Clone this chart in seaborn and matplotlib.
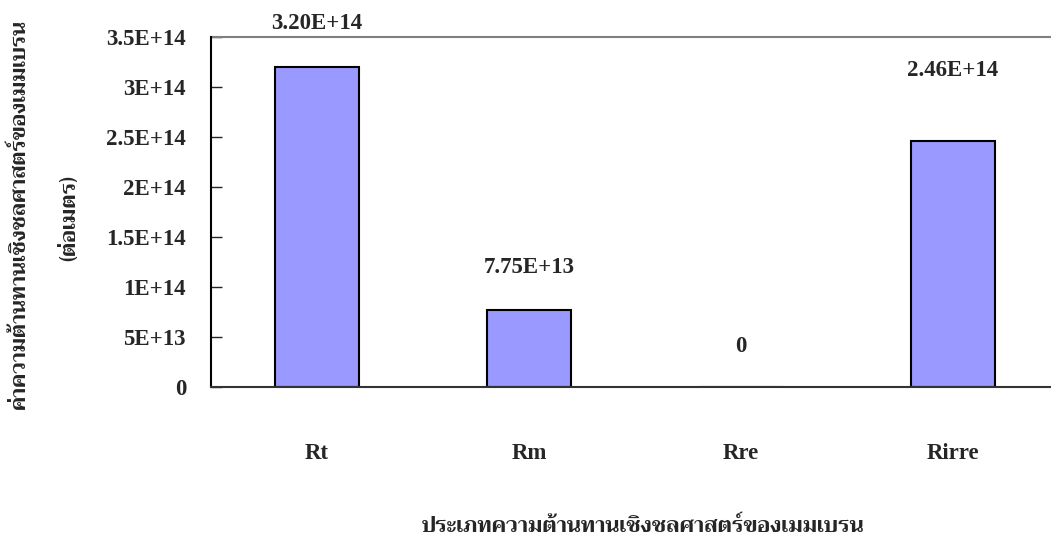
import matplotlib
matplotlib.use("Agg")
import matplotlib.pyplot as plt
import seaborn as sns

# data
categories = ["Rt", "Rm", "Rre", "Rirre"]
values = [3.20e14, 7.75e13, 0.0, 2.46e14]
value_labels = ["3.20E+14", "7.75E+13", "0", "2.46E+14"]
yticks = [0, 5e13, 1e14, 1.5e14, 2e14, 2.5e14, 3e14, 3.5e14]
ytick_labels = ["0", "5E+13", "1E+14", "1.5E+14", "2E+14", "2.5E+14", "3E+14", "3.5E+14"]
ylabel_lines = ["ค่าความต้านทานเชิงชลศาสตร์ของเมมเบรน", "(ต่อเมตร)"]
xlabel = "ประเภทความต้านทานเชิงชลศาสตร์ของเมมเบรน"

sns.set_style("white")
plt.rcParams['font.family'] = ['Liberation Serif', 'Trirong']
plt.rcParams['font.weight'] = 'bold'

fig = plt.figure(figsize=(10.51, 5.39), dpi=100)
ax = fig.add_axes([211 / 1051, 1 - 387 / 539, 848 / 1051, 350 / 539])

sns.barplot(x=categories, y=values, color="#9999FF", saturation=1,
            edgecolor="black", linewidth=1.5, width=0.4, ax=ax)

ax.set_xlim(-0.5, 3.5)
ax.set_ylim(0, 3.5e14)
ax.set_yticks(yticks)
ax.set_yticklabels(ytick_labels)
ax.tick_params(axis="y", direction="in", length=8, width=1, pad=18,
               labelsize=16.5, left=True)
ax.tick_params(axis="x", length=0, pad=40, labelsize=16.5)
for lab in ax.get_xticklabels() + ax.get_yticklabels():
    lab.set_fontweight("bold")

for s in ["top", "right"]:
    ax.spines[s].set_visible(False)
ax.spines["left"].set_color("black")
ax.spines["left"].set_linewidth(1.5)
ax.spines["bottom"].set_color("#333333")
ax.spines["bottom"].set_linewidth(1.5)
ax.axhline(3.5e14, color="#808080", lw=1.5, clip_on=False)

# value labels above bars (Excel put the last one higher)
offsets = [31, 30, 29, 51]
for i, (v, t) in enumerate(zip(values, value_labels)):
    ax.annotate(t, (i, v), xytext=(0, offsets[i]), textcoords="offset points",
                ha="center", va="center", fontsize=16.5, fontweight="bold")

ax.set_xlabel("")
ax.set_ylabel("")
fig.text(643 / 1051, 1 - 527 / 539, xlabel, ha="center", va="center",
         fontsize=15.7, fontweight="bold", family=["Trirong"])
fig.text(20 / 1051, 1 - 214 / 539, ylabel_lines[0], ha="center", va="center",
         rotation=90, fontsize=15.5, fontweight="bold", family=["Trirong"])
fig.text(70 / 1051, 1 - 218 / 539, ylabel_lines[1], ha="center", va="center",
         rotation=90, fontsize=15.7, fontweight="bold", family=["Trirong"])

fig.savefig("out.png", dpi=100)
